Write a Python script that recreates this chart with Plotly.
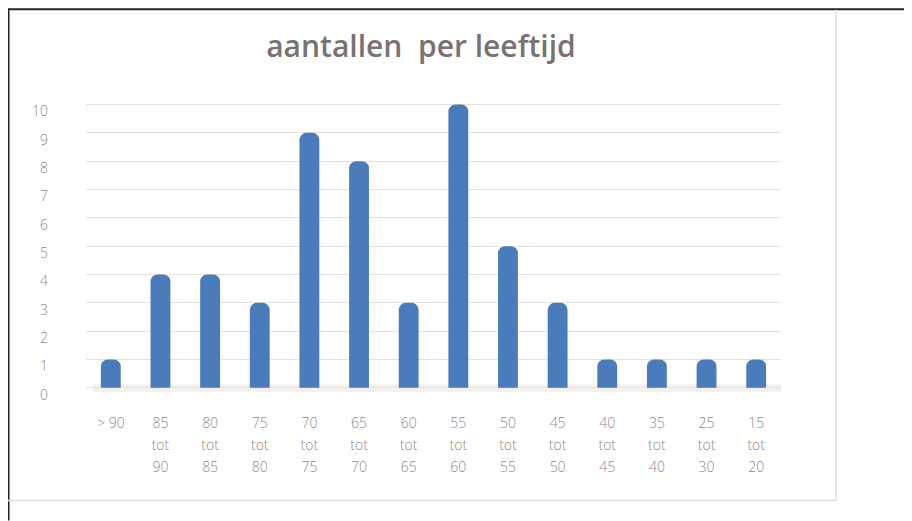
import plotly.graph_objects as go

categories = ["> 90", "85 tot 90", "80 tot 85", "75 tot 80", "70 tot 75", "65 tot 70",
              "60 tot 65", "55 tot 60", "50 tot 55", "45 tot 50", "40 tot 45",
              "35 tot 40", "25 tot 30", "15 tot 20"]
values = [1, 4, 4, 3, 9, 8, 3, 10, 5, 3, 1, 1, 1, 1]
y_ticks = list(range(0, 11))
title_text = "aantallen  per leeftijd"

label_color = "#8e8a8a"
label_font = dict(family="Open Sans", size=14, color=label_color, weight=300)

# figure is placed by the page at an 8 px offset
W, H = 904, 513
PL, PR = 78, 773          # plot area left/right (figure px)
PT, PB = 87.5, 394.2      # plot area top/bottom (figure px)
PW, PH = PR - PL, PB - PT


def split_label(c):
    if " tot " in c:
        a, b = c.split(" tot ")
        return [a, "tot", b]
    return [c, "", ""]


lines = [split_label(c) for c in categories]
idx = list(range(len(categories)))

fig = go.Figure()
fig.add_trace(go.Bar(
    x=idx, y=values, width=0.4,
    marker=dict(color="#4a7cbc", line=dict(width=0), cornerradius=7),
    showlegend=False, hoverinfo="x+y",
))

x_range = [-0.5, len(categories) - 0.5]
common_x = dict(range=x_range, tickmode="array", tickvals=idx, showgrid=False,
                zeroline=False, showline=False, ticks="", tickfont=label_font)

fig.update_layout(
    width=W, height=H,
    paper_bgcolor="white", plot_bgcolor="rgba(0,0,0,0)",
    margin=dict(l=PL, r=W - PR, t=PT, b=H - PB),
    title=dict(text=title_text, x=(421 - 8) / W, xanchor="center", y=1 - 38 / H, yanchor="middle",
               font=dict(family="Open Sans", size=30, color="#7a7272", weight=600)),
    xaxis=dict(**common_x, ticktext=[l[0] for l in lines], ticklabelstandoff=11),
    xaxis2=dict(**common_x, ticktext=[l[1] for l in lines], ticklabelstandoff=33,
                overlaying="x", side="bottom", anchor="y"),
    xaxis3=dict(**common_x, ticktext=[l[2] for l in lines], ticklabelstandoff=55,
                overlaying="x", side="bottom", anchor="y"),
    yaxis=dict(range=[-0.5, 10.3], tickmode="array", tickvals=y_ticks,
               showgrid=True, gridcolor="#e9dfdf", gridwidth=1, zeroline=False,
               showline=False, ticks="", tickfont=label_font,
               ticklabelshift=7, ticklabelstandoff=37),
)

# invisible traces to activate overlay axes
fig.add_trace(go.Scatter(x=[None], y=[None], xaxis="x2", showlegend=False, hoverinfo="skip"))
fig.add_trace(go.Scatter(x=[None], y=[None], xaxis="x3", showlegend=False, hoverinfo="skip"))

# floor shadow
fig.add_shape(type="rect", xref="paper", yref="y", x0=0.01, x1=1.0, y0=-0.15, y1=0.12,
              fillcolor="rgba(200,185,175,0.22)", line=dict(width=0), layer="below")


def px(x):
    return (x - PL) / PW


def py(y):
    return (PB - y) / PH


# frame decorations (figure px)
fig.add_shape(type="line", xref="paper", yref="paper", x0=px(0), x1=px(W),
              y0=py(0.5), y1=py(0.5), line=dict(color="#222222", width=2))
fig.add_shape(type="line", xref="paper", yref="paper", x0=px(0.5), x1=px(0.5),
              y0=py(0), y1=py(H), line=dict(color="#222222", width=2))
fig.add_shape(type="line", xref="paper", yref="paper", x0=px(828), x1=px(828),
              y0=py(1), y1=py(493), line=dict(color="#e2dcdc", width=1.5))
fig.add_shape(type="line", xref="paper", yref="paper", x0=px(0), x1=px(828),
              y0=py(493), y1=py(493), line=dict(color="#e2dcdc", width=1.5))

fig.write_html("out.html")
